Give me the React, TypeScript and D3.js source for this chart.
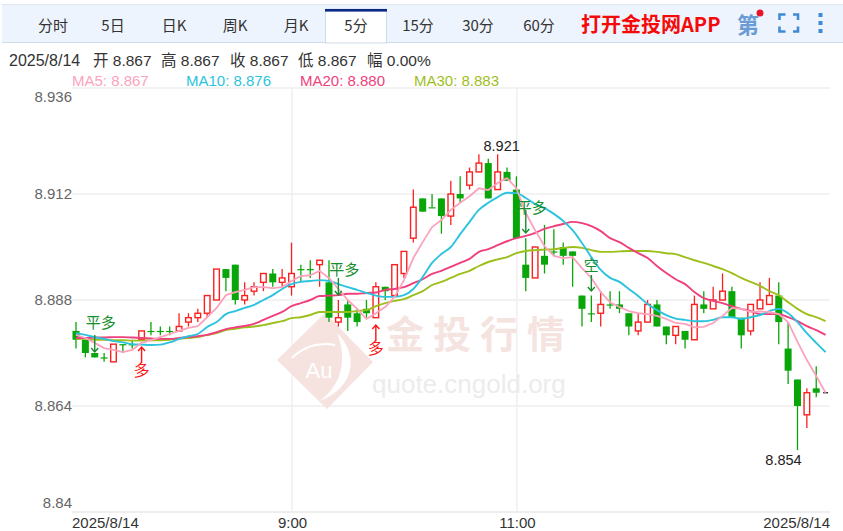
import React from "react";
import * as d3 from "d3";

const dates = ["2025/8/14", "9:00", "11:00", "2025/8/14"];
const dateIndex = [0, 23, 47, 80];
const yTicks = [8.936, 8.912, 8.888, 8.864, 8.84];
const tabs = ["分时", "5日", "日K", "周K", "月K", "5分", "15分", "30分", "60分"];
const tabCentres = [53, 113, 174, 235, 296, 356, 418, 478, 539];

const opens = [8.881,8.879,8.876,8.875,8.874,8.878,8.878,8.879,8.881,8.881,8.881,8.881,8.883,8.884,8.885,8.888,8.895,8.896,8.888,8.89,8.892,8.894,8.892,8.891,8.895,8.895,8.896,8.892,8.883,8.887,8.885,8.886,8.884,8.891,8.889,8.894,8.902,8.911,8.909,8.911,8.907,8.912,8.914,8.917,8.919,8.913,8.917,8.913,8.896,8.893,8.898,8.899,8.9,8.899,8.889,8.885,8.885,8.887,8.887,8.885,8.881,8.883,8.887,8.882,8.88,8.881,8.879,8.887,8.886,8.888,8.89,8.884,8.881,8.886,8.887,8.889,8.877,8.87,8.862,8.868,8.867];
const closes = [8.879,8.876,8.875,8.875,8.878,8.878,8.878,8.881,8.881,8.881,8.881,8.882,8.884,8.885,8.889,8.895,8.893,8.888,8.889,8.891,8.894,8.892,8.893,8.894,8.895,8.895,8.897,8.884,8.884,8.884,8.883,8.885,8.891,8.89,8.896,8.899,8.909,8.908,8.909,8.907,8.912,8.911,8.917,8.919,8.911,8.917,8.915,8.902,8.893,8.9,8.896,8.899,8.898,8.898,8.886,8.885,8.887,8.887,8.886,8.882,8.883,8.887,8.882,8.88,8.882,8.879,8.887,8.886,8.888,8.89,8.884,8.88,8.887,8.888,8.889,8.883,8.872,8.864,8.867,8.867,8.867];
const highs = [8.883,8.879,8.876,8.876,8.878,8.878,8.879,8.881,8.883,8.882,8.882,8.885,8.885,8.886,8.889,8.895,8.895,8.896,8.892,8.892,8.894,8.895,8.895,8.901,8.896,8.897,8.897,8.897,8.888,8.888,8.886,8.888,8.892,8.891,8.896,8.899,8.913,8.911,8.912,8.911,8.915,8.916,8.918,8.921,8.92,8.921,8.918,8.916,8.902,8.9,8.905,8.904,8.901,8.899,8.889,8.889,8.89,8.89,8.89,8.885,8.885,8.888,8.888,8.882,8.882,8.881,8.889,8.89,8.891,8.894,8.891,8.884,8.887,8.892,8.893,8.892,8.883,8.87,8.868,8.873,8.867];
const lows = [8.877,8.875,8.875,8.874,8.874,8.876,8.877,8.879,8.88,8.88,8.88,8.881,8.882,8.883,8.884,8.888,8.89,8.887,8.887,8.889,8.89,8.891,8.891,8.889,8.892,8.893,8.891,8.883,8.882,8.881,8.882,8.884,8.884,8.888,8.889,8.893,8.901,8.908,8.909,8.903,8.905,8.91,8.913,8.917,8.911,8.913,8.915,8.902,8.89,8.893,8.894,8.898,8.896,8.891,8.882,8.883,8.882,8.886,8.885,8.88,8.88,8.883,8.882,8.878,8.878,8.877,8.879,8.885,8.886,8.888,8.884,8.877,8.88,8.886,8.887,8.878,8.869,8.854,8.859,8.866,8.867];

const ma5 = [8.8801,8.8794,8.8783,8.8771,8.8767,8.8762,8.8767,8.8783,8.8789,8.8796,8.8803,8.881,8.8817,8.8821,8.8841,8.8862,8.8891,8.8898,8.8903,8.8909,8.8909,8.8907,8.8909,8.8923,8.8934,8.8936,8.8946,8.893,8.8905,8.888,8.886,8.8837,8.885,8.8864,8.8887,8.8925,8.8975,8.9011,8.9045,8.9061,8.9084,8.91,8.9115,8.9133,8.9129,8.9145,8.9156,8.9133,8.9077,8.9038,8.9002,8.898,8.8975,8.8977,8.8952,8.893,8.8898,8.8875,8.8864,8.8855,8.885,8.8848,8.8844,8.8837,8.8828,8.8826,8.8818,8.8819,8.8828,8.8844,8.8862,8.886,8.8853,8.8854,8.8853,8.8848,8.883,8.8785,8.8744,8.8708,8.867];
const ma10 = [8.8805,8.8801,8.8796,8.8792,8.8787,8.8784,8.878,8.8779,8.8778,8.8779,8.8784,8.8792,8.8798,8.8803,8.8819,8.883,8.8848,8.8855,8.8862,8.8869,8.888,8.8891,8.8905,8.8916,8.8921,8.8923,8.8925,8.8923,8.8916,8.8909,8.8903,8.8896,8.889,8.8887,8.8887,8.8891,8.8905,8.8932,8.8964,8.8984,8.9,8.9029,8.9057,8.9084,8.91,8.9113,8.9123,8.9122,8.9111,8.9097,8.9088,8.9075,8.9059,8.9038,8.9009,8.8977,8.8948,8.893,8.8921,8.8905,8.8889,8.8871,8.8857,8.8846,8.8838,8.8835,8.8832,8.8832,8.8835,8.8841,8.8841,8.8837,8.8841,8.8846,8.8855,8.886,8.885,8.883,8.8805,8.8783,8.8762];
const ma20 = [8.8794,8.8794,8.8795,8.8795,8.8796,8.8796,8.8795,8.8794,8.8793,8.8792,8.8792,8.8794,8.8796,8.8798,8.8801,8.8807,8.8814,8.8818,8.8821,8.8826,8.8835,8.8844,8.8853,8.8866,8.8873,8.888,8.8889,8.889,8.8891,8.8894,8.8894,8.8896,8.8897,8.8903,8.8905,8.8909,8.8918,8.8927,8.8939,8.8946,8.8955,8.8964,8.8973,8.8989,8.8995,8.9004,8.9013,8.902,8.9025,8.9032,8.9041,8.9047,8.9052,8.9057,8.9054,8.9047,8.9036,8.902,8.9011,8.8998,8.8986,8.8975,8.8957,8.8941,8.8927,8.8916,8.8898,8.8884,8.8878,8.8873,8.8866,8.886,8.8855,8.8848,8.8848,8.8848,8.8841,8.8832,8.8821,8.8812,8.8801];
const ma30 = [8.8792,8.8792,8.879,8.879,8.8789,8.8789,8.8788,8.8788,8.8789,8.8789,8.879,8.8792,8.8794,8.8796,8.8801,8.8805,8.8812,8.8815,8.8818,8.882,8.8823,8.8828,8.8832,8.8839,8.8841,8.8846,8.8853,8.8853,8.8853,8.8853,8.8855,8.8857,8.8866,8.8873,8.8878,8.8882,8.8891,8.89,8.8914,8.8921,8.893,8.8939,8.8946,8.8957,8.8966,8.8972,8.8977,8.8986,8.8991,8.8993,8.8994,8.8995,8.8998,8.9,8.8998,8.8993,8.8989,8.8989,8.899,8.8991,8.8991,8.8991,8.8989,8.8986,8.8984,8.8977,8.897,8.8964,8.8957,8.895,8.8941,8.893,8.8921,8.8912,8.89,8.8891,8.8875,8.886,8.8848,8.8841,8.8832];

const maColours = ["#fba3bd", "#2cc3de", "#ef3f7c", "#9dbf1d"];
const maSeries = [ma5, ma10, ma20, ma30];
const maLegend = ["MA5: 8.867", "MA10: 8.876", "MA20: 8.880", "MA30: 8.883"];
const maLegendX = [72, 186, 300, 414];

const RED = "#fb2020";
const GREEN = "#08a608";
const font = "Arial, 'Liberation Sans', 'Noto Sans CJK SC', sans-serif";
const cjk = "'Noto Sans CJK SC', 'Liberation Sans', sans-serif";

const signalIdx = [2, 7, 28, 32, 48, 55];
const signalText = ["平多", "多", "平多", "多", "平多", "空"];
const signalDir = [-1, 1, -1, 1, -1, -1];

export default function App() {
  const x = d3.scaleLinear().domain([0, 80]).range([76, 825.6]);
  const y = d3.scaleLinear().domain([8.84, 8.936]).range([512, 88]);
  const line = d3.line<number>().x((_, i) => x(i)).y((d) => y(d));
  const smooth = d3.line<number>().x((_, i) => x(i)).y((d) => y(d)).curve(d3.curveMonotoneX);
  const bodyW = 7;
  const green = "#178f2c";

  const downLayout: Record<number, [number, number, number]> = {
    0: [328, 335, 17],
    2: [275, 278, 17],
    4: [213, 210, 23],
    5: [271, 275, 16],
  };

  return (
    <svg width={843} height={531} style={{ position: "absolute", left: 0, top: 0, fontFamily: font }}>
      <rect width={843} height={531} fill="#fff" />

      {/* toolbar */}
      <rect x={2} y={5} width={841} height={37} fill="#eef4fd" />
      <line x1={2} x2={843} y1={4.5} y2={4.5} stroke="#dfe7f3" />
      <line x1={2} x2={843} y1={42.5} y2={42.5} stroke="#cfdcec" />
      <rect x={325.5} y={9} width={61} height={34} fill="#fff" stroke="#cfdcec" />
      <rect x={325} y={9} width={62} height={2.6} fill="#0b2a85" />
      {tabs.map((t, i) => (
        <text key={i} x={tabCentres[i]} y={31} textAnchor="middle" fontSize={15} fill="#333" fontFamily={cjk}>{t}</text>
      ))}
      <text x={581} y={32} fontSize={20} fontWeight="bold" fill="#f50a0a" fontFamily={cjk}>打开金投网APP</text>
      <text x={748} y={33} textAnchor="middle" fontSize={22} fontWeight="bold" fill="#6b9bd4" fontFamily={cjk}>第</text>
      <circle cx={760} cy={13} r={3.5} fill="#e8142a" />
      <path d="M779.5 20V14.5H785.5M793 14.5H798V20M798 26.5V31.5H793M785.5 31.5H779.5V26.5" fill="none" stroke="#3f8ad6" strokeWidth={2.6} />
      {[15, 23, 31].map((cy) => <rect key={cy} x={818.5} y={cy - 2} width={4} height={4} fill="#3f8ad6" />)}

      {/* info rows */}
      <text x={9} y={66} fontSize={16} fill="#333">2025/8/14</text>
      {["开 8.867", "高 8.867", "收 8.867", "低 8.867", "幅 0.00%"].map((t, i) => (
        <text key={i} x={[93, 161, 230, 298, 367][i]} y={66} fontSize={15.5} fill="#333">{t}</text>
      ))}
      {maLegend.map((t, i) => (
        <text key={i} x={maLegendX[i]} y={86} fontSize={15} fill={maColours[i]}>{t}</text>
      ))}

      {/* grid */}
      {yTicks.map((t) => (
        <line key={t} x1={72} x2={830} y1={y(t)} y2={y(t)} stroke="#eeeeee" strokeWidth={t === 8.84 ? 2 : 1.6} />
      ))}
      {[23, 47].map((i) => (
        <line key={i} x1={x(i) + 0.5} x2={x(i) + 0.5} y1={88} y2={512} stroke="#eeeeee" strokeWidth={1.4} />
      ))}
      {yTicks.map((t, i) => (
        <text key={t} x={72} y={y(t) + (i === 0 ? 14 : i === 4 ? -4 : 5)} textAnchor="end" fontSize={15} fill="#666">
          {i === 4 ? "8.84" : d3.format(".3f")(t)}
        </text>
      ))}
      {dates.map((d, i) => (
        <text key={i} x={i === 0 ? 72 : i === 3 ? 830 : x(dateIndex[i]) + 1} y={528} textAnchor={i === 0 ? "start" : i === 3 ? "end" : "middle"} fontSize={15} fill="#333">{d}</text>
      ))}

      {/* watermark */}
      <g>
        <path d="M325 313L373 362L327 409L277 360Z" fill="#f6e3df" />
        <path d="M337 333C357 352 358 386 320 401C345 382 346 355 337 333Z" fill="#fff" />
        <path d="M292 358C305 345 322 342 335 345" fill="none" stroke="#fff" strokeWidth={2} />
        <text x={319} y={378} textAnchor="middle" fontSize={22} fill="#fff">Au</text>
        <text x={386} y={348} fontSize={38} fontWeight="bold" fill="#f5e3df" fontFamily={cjk} letterSpacing={9}>金投行情</text>
        <text x={372} y={393} fontSize={26} fill="#ececec">quote.cngold.org</text>
      </g>

      {/* candles */}
      {opens.map((o, i) => {
        const c = closes[i];
        const up = c > o;
        const col = up ? RED : GREEN;
        const top = y(Math.max(o, c));
        const bot = y(Math.min(o, c));
        const cx = x(i);
        if (i === 80) {
          return <line key={i} x1={cx - 2.5} x2={cx + 2.5} y1={top} y2={top} stroke="#111" strokeWidth={1.2} />;
        }
        return (
          <g key={i}>
            <line x1={cx} x2={cx} y1={y(highs[i])} y2={y(lows[i])} stroke={col} strokeWidth={1.3} />
            {up ? (
              <rect x={cx - bodyW / 2 + 0.7} y={top} width={bodyW - 1.4} height={Math.max(bot - top, 1)} fill="#fff" stroke={col} strokeWidth={1.4} />
            ) : (
              <rect x={cx - bodyW / 2} y={top} width={bodyW} height={Math.max(bot - top, 1.2)} fill={col} />
            )}
          </g>
        );
      })}

      {/* moving averages */}
      {[3, 2, 1, 0].map((k) => (
        <path key={k} d={(k === 0 ? line(maSeries[k]) : smooth(maSeries[k])) ?? ""} fill="none" stroke={maColours[k]} strokeWidth={k === 0 ? 1.8 : 1.9} strokeLinejoin="round" />
      ))}

      {/* signals */}
      {signalIdx.map((s, i) => {
        const cx = x(s);
        const col = signalDir[i] > 0 ? "#fa1414" : green;
        if (signalDir[i] > 0) {
          const y0 = i === 1 ? 347 : 325;
          return (
            <g key={i}>
              <path d={`M${cx} ${y0 + 16}V${y0}M${cx - 3.5} ${y0 + 4}L${cx} ${y0}L${cx + 3.5} ${y0 + 4}`} fill="none" stroke={col} strokeWidth={1.4} />
              <text x={cx} y={y0 + 29} textAnchor="middle" fontSize={16} fill={col} fontFamily={cjk}>{signalText[i]}</text>
            </g>
          );
        }
        const [ty, y0, len] = downLayout[i];
        const tx = signalText[i].length > 1 ? cx + 6 : cx;
        return (
          <g key={i}>
            <text x={tx} y={ty} textAnchor="middle" fontSize={15} fill={col} fontFamily={cjk}>{signalText[i]}</text>
            <path d={`M${cx} ${y0}V${y0 + len}M${cx - 3.5} ${y0 + len - 4}L${cx} ${y0 + len}L${cx + 3.5} ${y0 + len - 4}`} fill="none" stroke={col} strokeWidth={1.4} />
          </g>
        );
      })}

      {/* extreme labels */}
      <text x={x(45) + 4} y={151} textAnchor="middle" fontSize={14.5} fill="#222">{d3.format(".3f")(d3.max(highs) as number)}</text>
      <text x={x(77) - 14} y={465} textAnchor="middle" fontSize={14.5} fill="#222">{d3.format(".3f")(d3.min(lows) as number)}</text>
    </svg>
  );
}
